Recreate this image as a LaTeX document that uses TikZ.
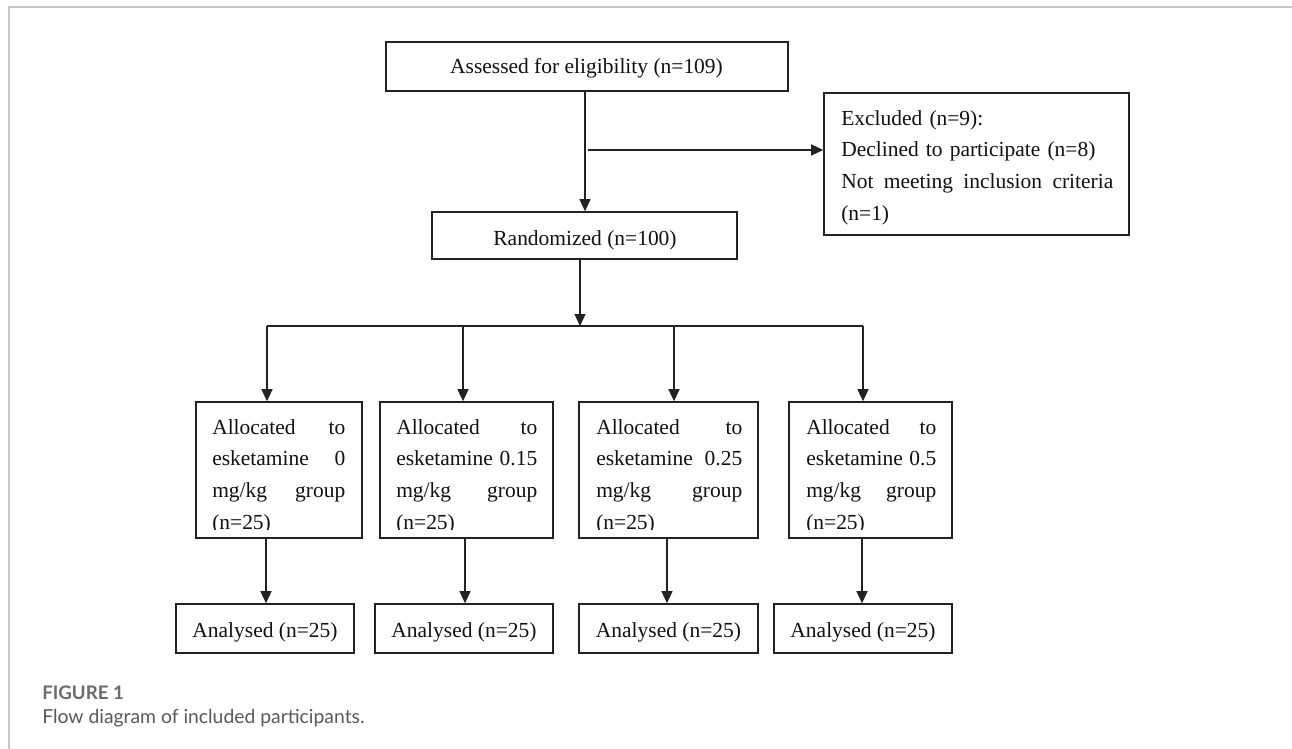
\documentclass[tikz,border=0pt]{standalone}
\usepackage{fontspec}
\setmainfont{Liberation Serif}
\newfontfamily\capfont{Lato}
\usetikzlibrary{arrows.meta}
\definecolor{boxcol}{HTML}{222222}
\definecolor{txtcol}{HTML}{111111}
\definecolor{framecol}{HTML}{C8C8C8}
\definecolor{capcol}{HTML}{6B6B6B}
\definecolor{capcoltwo}{HTML}{595959}
\begin{document}
\begin{tikzpicture}[x=0.75pt,y=-0.75pt,
  box/.style={draw=boxcol, line width=1.2pt, inner sep=0pt, rectangle},
  txt/.style={inner sep=0pt, text=txtcol, font=\fontsize{16.1pt}{23.8pt}\selectfont},
  conn/.style={draw=boxcol, line width=1pt},
  arr/.style={conn, -{Triangle[length=9pt,width=8.25pt]}},
  alloc/.style={txt, anchor=base west, align=left}]
\useasboundingbox (0,0) rectangle (1292,749);
\fill[white] (0,0) rectangle (1292,749);
\draw[line width=1.2pt, draw=framecol] (9,749) -- (9,7) -- (1292,7);

% top row
\node[box, minimum width=402*0.75pt, minimum height=49*0.75pt] (top) at (587,66.5) {};
\node[txt, anchor=base] (toptxt) at (586.5,74) {Assessed for eligibility (n=109)};
\node[box, minimum width=305*0.75pt, minimum height=142*0.75pt] (excl) at (976.5,164) {};
\node[txt, anchor=base west, text width=204pt, align=left] (excltxt) at (841,125)
  {Excluded (n=9):\\ Declined to participate (n=8)\\ Not\hfill meeting\hfill inclusion\hfill criteria\\ (n=1)};
\node[box, minimum width=305*0.75pt, minimum height=47*0.75pt] (rand) at (584.5,235.5) {};
\node[txt, anchor=base] (randtxt) at (585,245) {Randomized (n=100)};

% allocated boxes
\node[box, minimum width=166*0.75pt, minimum height=136*0.75pt] (a1) at (279,470) {};
\node[box, minimum width=173*0.75pt, minimum height=136*0.75pt] (a2) at (466.5,470) {};
\node[box, minimum width=179*0.75pt, minimum height=136*0.75pt] (a3) at (668.5,470) {};
\node[box, minimum width=163*0.75pt, minimum height=136*0.75pt] (a4) at (870.5,470) {};
\begin{scope}
  \clip (196,402) rectangle (362,529);
  \node[alloc, text width=99.75pt] (a1txt) at (212,434)
    {Allocated\hfill to\\ esketamine\hfill 0\\ mg/kg\hfill group\\ (n=25)};
\end{scope}
\begin{scope}
  \clip (380,402) rectangle (553,529);
  \node[alloc, text width=105.75pt] (a2txt) at (396,434)
    {Allocated\hfill to\\ esketamine\hfill 0.15\\ mg/kg\hfill group\\ (n=25)};
\end{scope}
\begin{scope}
  \clip (579,402) rectangle (758,529);
  \node[alloc, text width=109.5pt] (a3txt) at (596,434)
    {Allocated\hfill to\\ esketamine\hfill 0.25\\ mg/kg\hfill group\\ (n=25)};
\end{scope}
\begin{scope}
  \clip (789,402) rectangle (952,529);
  \node[alloc, text width=97.5pt] (a4txt) at (806,434)
    {Allocated\hfill to\\ esketamine\hfill 0.5\\ mg/kg\hfill group\\ (n=25)};
\end{scope}

% analysed boxes
\node[box, minimum width=178*0.75pt, minimum height=49*0.75pt] (n1) at (265,628.5) {};
\node[box, minimum width=178*0.75pt, minimum height=49*0.75pt] (n2) at (464,628.5) {};
\node[box, minimum width=179*0.75pt, minimum height=49*0.75pt] (n3) at (668.5,628.5) {};
\node[box, minimum width=178*0.75pt, minimum height=49*0.75pt] (n4) at (863,628.5) {};
\node[txt, anchor=base] (n1txt) at (265,637) {Analysed (n=25)};
\node[txt, anchor=base] (n2txt) at (464,637) {Analysed (n=25)};
\node[txt, anchor=base] (n3txt) at (668.5,637) {Analysed (n=25)};
\node[txt, anchor=base] (n4txt) at (863,637) {Analysed (n=25)};

% connectors
\coordinate (v1) at (585,0);
\coordinate (b1) at (588,150);
\coordinate (split) at (580,326);
\coordinate (d1) at (267,326);
\coordinate (d2) at (463,326);
\coordinate (d3) at (674,326);
\coordinate (d4) at (863,326);
\coordinate (e1) at (266,0);
\coordinate (e2) at (465,0);
\coordinate (e3) at (667,0);
\coordinate (e4) at (862,0);
\draw[arr] (top.south -| v1) -- (rand.north -| v1);
\draw[arr] (b1) -- (b1 -| excl.west);
\draw[arr] (rand.south -| split) -- (split);
\draw[conn] (d1) -- (d4);
\draw[arr] (d1) -- (d1 |- a1.north);
\draw[arr] (d2) -- (d2 |- a2.north);
\draw[arr] (d3) -- (d3 |- a3.north);
\draw[arr] (d4) -- (d4 |- a4.north);
\draw[arr] (e1 |- a1.south) -- (e1 |- n1.north);
\draw[arr] (e2 |- a2.south) -- (e2 |- n2.north);
\draw[arr] (e3 |- a3.south) -- (e3 |- n3.north);
\draw[arr] (e4 |- a4.south) -- (e4 |- n4.north);

% caption
\node[anchor=base west, inner sep=0pt, text=capcol, font=\capfont\bfseries\fontsize{14pt}{16pt}\selectfont] (figlabel) at (42,699) {FIGURE 1};
\node[anchor=base west, inner sep=0pt, text=capcoltwo, font=\capfont\fontsize{14.5pt}{16pt}\selectfont] (figcap) at (42,723) {Flow diagram of included participants.};
\end{tikzpicture}
\end{document}
